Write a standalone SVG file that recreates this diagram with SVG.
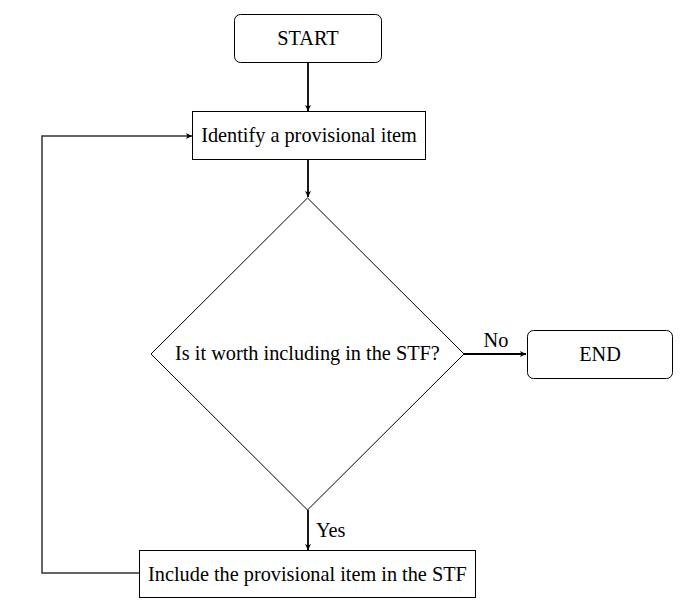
<svg xmlns="http://www.w3.org/2000/svg" width="697" height="607" viewBox="0 0 697 607">
<defs>
<marker id="ah" markerWidth="8" markerHeight="8" refX="7" refY="4" orient="auto" markerUnits="userSpaceOnUse">
<path d="M1,1 L7,4 L1,7 L2.5,4 Z" fill="#000"/>
</marker>
<style>
.box{fill:#fff;stroke:#000;stroke-width:1}
.t{font-family:"Liberation Serif","Times New Roman",serif;font-size:20.3px;fill:#000}
.c{fill:none;stroke:#000;stroke-width:1.8}
</style>
</defs>
<rect width="697" height="607" fill="#fff"/>
<g id="connectors">
<line class="c" x1="308" y1="62" x2="308" y2="111" marker-end="url(#ah)"/>
<line class="c" x1="308" y1="160" x2="308" y2="197" marker-end="url(#ah)"/>
<line class="c" x1="464" y1="354" x2="526" y2="354" marker-end="url(#ah)"/>
<line class="c" x1="308" y1="510" x2="308" y2="550" marker-end="url(#ah)"/>
<polyline fill="none" stroke="#333" stroke-width="1.5" points="139,573 42,573 42,136 192,136" marker-end="url(#ah)"/>
<text class="t" x="496" y="347" text-anchor="middle">No</text>
<text class="t" x="316" y="537">Yes</text>
</g>
<g id="start">
<rect class="box" x="234.5" y="14.5" width="147" height="48" rx="6"/>
<text class="t" x="308" y="45" text-anchor="middle">START</text>
</g>
<g id="identify">
<rect class="box" x="192.5" y="111.5" width="233" height="48"/>
<text class="t" x="309" y="142" text-anchor="middle">Identify a provisional item</text>
</g>
<g id="decision">
<polygon class="box" points="307.5,198 464,354 307.5,510 151,354"/>
<text class="t" x="307.5" y="360" text-anchor="middle">Is it worth including in the STF?</text>
</g>
<g id="end">
<rect class="box" x="527.5" y="330.5" width="145" height="48" rx="6"/>
<text class="t" x="600" y="361" text-anchor="middle">END</text>
</g>
<g id="include">
<rect class="box" x="139.5" y="550.5" width="336" height="47"/>
<text class="t" x="307.5" y="581" text-anchor="middle">Include the provisional item in the STF</text>
</g>
</svg>
